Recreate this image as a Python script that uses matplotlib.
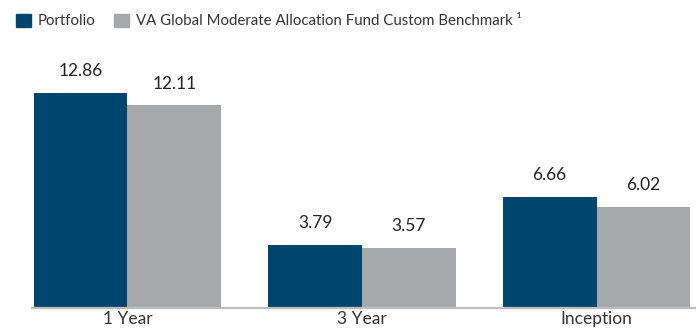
import numpy as np
import matplotlib.pyplot as plt
from matplotlib.patches import Patch

# returns by period (%)
periods = ["1 Year", "3 Year", "Inception"]
portfolio = [12.86, 3.79, 6.66]
benchmark = [12.11, 3.57, 6.02]
series_names = ["Portfolio", "VA Global Moderate Allocation Fund Custom Benchmark \u00b9"]

BLUE = "#00466e"
GREY = "#a7a8aa"

plt.rcParams['font.family'] = ['Lato', 'DejaVu Sans']

fig = plt.figure(figsize=(6.96, 3.31), dpi=100)
ax = fig.add_axes([32 / 696, (331 - 308) / 331, 664 / 696, 248 / 331])

x = np.arange(len(periods))
w = 0.4
b1 = ax.bar(x - w / 2, portfolio, w, color=BLUE)
b2 = ax.bar(x + w / 2, benchmark, w, color=GREY)

for bars, vals in ((b1, portfolio), (b2, benchmark)):
    for rect, v in zip(bars, vals):
        ax.annotate(f"{v:.2f}", (rect.get_x() + rect.get_width() / 2, v),
                    xytext=(0, 10), textcoords="offset points",
                    ha="center", va="bottom", fontsize=12.5, color="#222222")

ax.set_xlim(-0.407, 2.424)
ax.set_ylim(0, 14.83)
ax.set_xticks(x)
ax.set_xticklabels(periods, fontsize=12.5, color="#333333")
ax.tick_params(axis="x", length=0, pad=2)
ax.set_yticks([])
for s in ("top", "right", "left"):
    ax.spines[s].set_visible(False)
ax.spines["bottom"].set_color("#bdbdbd")
ax.spines["bottom"].set_linewidth(1.6)

handles = [Patch(color=BLUE), Patch(color=GREY)]
fig.legend(handles, series_names, loc="upper left", bbox_to_anchor=(0.003, 1.0),
           ncol=2, frameon=False, fontsize=10.8, handlelength=1.0, handleheight=1.0,
           handletextpad=0.5, columnspacing=1.2, labelcolor="#333333")

fig.savefig("out.png", dpi=100)
